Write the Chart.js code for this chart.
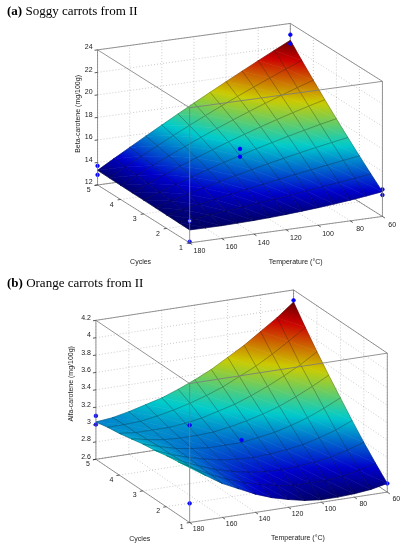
<!DOCTYPE html>
<html>
<head>
<meta charset="utf-8">
<script src="https://cdn.jsdelivr.net/npm/chart.js@4.4.1/dist/chart.umd.min.js"></script>
<style>
  body { margin: 0; background: #fff; }
  .panel { position: relative; width: 409px; height: 275px; }
  .panel canvas { position: absolute; left: 0; top: 0; }
  .caption { position: absolute; left: 7px; font: 13px/13px "Liberation Serif", "Times New Roman", serif; color: #000; white-space: nowrap; }
</style>
</head>
<body>
<div class="panel">
  <canvas id="soggy" width="409" height="275"></canvas>
  <div class="caption" style="top:3.5px"><b>(a)</b> Soggy carrots from II</div>
</div>
<div class="panel">
  <canvas id="orange" width="409" height="275"></canvas>
  <div class="caption" style="top:0.5px"><b>(b)</b> Orange carrots from II</div>
</div>
<script>
// grid of the fitted surfaces: rows follow cycles, columns follow temps
const temps = [60, 70, 80, 90, 100, 110, 120, 130, 140, 150, 160, 170, 180];
const cycles = [1, 1.5, 2, 2.5, 3, 3.5, 4, 4.5, 5];

const tempTicks = [60, 80, 100, 120, 140, 160, 180];
const cycleTicks = [1, 2, 3, 4, 5];
const betaTicks = [12, 14, 16, 18, 20, 22, 24];
const alfaTicks = [2.6, 2.8, 3, 3.2, 3.4, 3.6, 3.8, 4, 4.2];

const betaSurface = [
  [14.20, 14.01, 13.84, 13.69, 13.56, 13.45, 13.35, 13.27, 13.21, 13.17, 13.14, 13.14, 13.15],
  [15.13, 14.94, 14.75, 14.58, 14.40, 14.23, 14.06, 13.90, 13.75, 13.60, 13.45, 13.31, 13.17],
  [16.09, 15.88, 15.66, 15.44, 15.22, 14.98, 14.74, 14.50, 14.25, 13.99, 13.73, 13.46, 13.19],
  [17.08, 16.83, 16.57, 16.30, 16.01, 15.71, 15.39, 15.06, 14.72, 14.36, 13.99, 13.60, 13.21],
  [18.10, 17.80, 17.47, 17.13, 16.77, 16.40, 16.00, 15.59, 15.15, 14.70, 14.22, 13.73, 13.23],
  [19.15, 18.78, 18.38, 17.96, 17.52, 17.06, 16.58, 16.07, 15.55, 15.01, 14.44, 13.85, 13.24],
  [20.24, 19.77, 19.28, 18.77, 18.24, 17.69, 17.12, 16.53, 15.91, 15.28, 14.63, 13.96, 13.26],
  [21.35, 20.78, 20.18, 19.57, 18.94, 18.29, 17.63, 16.95, 16.25, 15.53, 14.80, 14.05, 13.28],
  [22.50, 21.80, 21.08, 20.35, 19.61, 18.86, 18.10, 17.33, 16.54, 15.75, 14.94, 14.13, 13.30]
];

const alfaSurface = [
  [2.70, 2.66, 2.64, 2.63, 2.63, 2.65, 2.69, 2.74, 2.81, 2.90, 2.99, 3.11, 3.24],
  [2.84, 2.79, 2.75, 2.73, 2.73, 2.73, 2.76, 2.80, 2.85, 2.92, 3.00, 3.10, 3.21],
  [2.99, 2.93, 2.88, 2.85, 2.83, 2.82, 2.83, 2.85, 2.89, 2.94, 3.01, 3.09, 3.19],
  [3.15, 3.07, 3.01, 2.96, 2.93, 2.91, 2.90, 2.91, 2.93, 2.97, 3.02, 3.08, 3.16],
  [3.32, 3.23, 3.15, 3.09, 3.04, 3.01, 2.98, 2.98, 2.98, 3.00, 3.03, 3.08, 3.14],
  [3.49, 3.39, 3.30, 3.22, 3.16, 3.11, 3.07, 3.04, 3.03, 3.03, 3.04, 3.07, 3.11],
  [3.67, 3.55, 3.45, 3.36, 3.28, 3.21, 3.16, 3.11, 3.08, 3.06, 3.06, 3.06, 3.08],
  [3.86, 3.73, 3.61, 3.50, 3.41, 3.32, 3.25, 3.19, 3.14, 3.10, 3.07, 3.06, 3.06],
  [4.06, 3.91, 3.78, 3.65, 3.54, 3.43, 3.34, 3.26, 3.19, 3.14, 3.09, 3.05, 3.03]
];

// measured points (blue dots)
const betaPointTemps = [180, 180, 180, 180, 60, 60, 60, 60, 120, 120];
const betaPointCycles = [5, 5, 1, 1, 5, 5, 1, 1, 3, 3];
const betaPointValues = [13.7, 12.9, 13.95, 12.1, 23.0, 22.2, 14.4, 13.9, 16.6, 15.9];

const alfaPointTemps = [180, 180, 180, 180, 60, 60, 120];
const alfaPointCycles = [5, 5, 1, 1, 5, 1, 3];
const alfaPointValues = [3.10, 3.00, 3.72, 2.82, 4.08, 2.70, 3.01];

// view of the 3-D box: corner at (180 degC, 1 cycle, z min), edge vectors in px
const soggyView = {
  corner: [189.3, 246.7], tVec: [197.4, -27.4], cVec: [-94.3, -60], zLen: 140,
  tempLabel: [9.8, 8.5], cycleLabel: [-8.8, 5.3], zLabel: [-5, -2.5],
  tempTitle: [9.7, 32], cycleTitle: [-3, 48], zTitle: [-20, -3.5], ring: [2]
};
const orangeView = {
  corner: [189.3, 251.5], tVec: [202.4, -31.5], cVec: [-96, -65.5], zLen: 144,
  tempLabel: [9, 7], cycleLabel: [-8, 4.6], zLabel: [-5, -2.5],
  tempTitle: [9.5, 31], cycleTitle: [-3, 48], zTitle: [-25, -6], ring: []
};

const FONT = '7px "Liberation Sans", Arial, sans-serif';
const SHADE = 0.8;

function jet(t) {
  const f = (k) => Math.round(255 * SHADE * Math.max(0, Math.min(1, 1.5 - Math.abs(4 * t - k))));
  return "rgb(" + f(3) + "," + f(2) + "," + f(1) + ")";
}

// colour a projected triangle with a linear gradient of the colormap
function shadeTriangle(ctx, P, T) {
  const dx1 = P[1][0] - P[0][0], dy1 = P[1][1] - P[0][1];
  const dx2 = P[2][0] - P[0][0], dy2 = P[2][1] - P[0][1];
  const det = dx1 * dy2 - dx2 * dy1;
  const tLo = Math.min(...T), tHi = Math.max(...T);
  let fill = jet((tLo + tHi) / 2);
  if (Math.abs(det) > 1e-6 && tHi - tLo > 1e-6) {
    const dt1 = T[1] - T[0], dt2 = T[2] - T[0];
    const b = (dt1 * dy2 - dt2 * dy1) / det;
    const c = (dx1 * dt2 - dx2 * dt1) / det;
    const g2 = b * b + c * c;
    if (g2 > 1e-12) {
      const at = (t) => [P[0][0] + b * (t - T[0]) / g2, P[0][1] + c * (t - T[0]) / g2];
      const s = at(tLo), e = at(tHi);
      fill = ctx.createLinearGradient(s[0], s[1], e[0], e[1]);
      for (let k = 0; k <= 4; k++) fill.addColorStop(k / 4, jet(tLo + (tHi - tLo) * k / 4));
    }
  }
  ctx.beginPath();
  ctx.moveTo(P[0][0], P[0][1]);
  ctx.lineTo(P[1][0], P[1][1]);
  ctx.lineTo(P[2][0], P[2][1]);
  ctx.closePath();
  ctx.fillStyle = fill;
  ctx.strokeStyle = fill;
  ctx.lineWidth = 0.6;
  ctx.fill();
  ctx.stroke();
}

function surfaceChart(canvasId, surface, zTicks, zTitle, pTemps, pCycles, pValues, view) {
  const tMin = temps[0], tMax = temps[temps.length - 1];
  const cMin = cycles[0], cMax = cycles[cycles.length - 1];
  const zMin = zTicks[0], zMax = zTicks[zTicks.length - 1];

  const frac = (t, c, z) => [(tMax - t) / (tMax - tMin), (c - cMin) / (cMax - cMin), (z - zMin) / (zMax - zMin)];
  const project = (t, c, z) => {
    const f = frac(t, c, z);
    return {
      x: view.tVec[0] * f[0] + view.cVec[0] * f[1],
      y: view.tVec[1] * f[0] + view.cVec[1] * f[1] - view.zLen * f[2]
    };
  };
  // direction pointing away from the viewer, for painter's ordering
  const away = [-view.cVec[0] * view.zLen, view.tVec[0] * view.zLen,
    view.tVec[0] * view.cVec[1] - view.cVec[0] * view.tVec[1]];
  const depth = (t, c, z) => {
    const f = frac(t, c, z);
    return f[0] * away[0] + f[1] * away[1] + f[2] * away[2];
  };

  const all = surface.flat();
  const lo = Math.min(...all), hi = Math.max(...all);

  const cells = [];
  for (let j = 0; j < cycles.length - 1; j++) {
    for (let i = 0; i < temps.length - 1; i++) {
      const corners = [[i, j], [i + 1, j], [i + 1, j + 1], [i, j + 1]]
        .map(([a, b]) => [temps[a], cycles[b], surface[b][a]]);
      const mean = corners.reduce((s, p) => s + p[2], 0) / 4;
      cells.push({
        corners: corners,
        depth: depth((temps[i] + temps[i + 1]) / 2, (cycles[j] + cycles[j + 1]) / 2, mean)
      });
    }
  }
  cells.sort((p, q) => q.depth - p.depth);

  const px = (chart, t, c, z) => {
    const p = project(t, c, z);
    return [chart.scales.x.getPixelForValue(p.x), chart.scales.y.getPixelForValue(p.y)];
  };
  const seg = (chart, a, b) => {
    const p = px(chart, ...a), q = px(chart, ...b);
    chart.ctx.beginPath();
    chart.ctx.moveTo(p[0], p[1]);
    chart.ctx.lineTo(q[0], q[1]);
    chart.ctx.stroke();
  };
  const unit = (v) => { const n = Math.hypot(v[0], v[1]); return [v[0] / n, v[1] / n]; };

  const surfacePlugin = {
    id: "surface",
    beforeDatasetsDraw(chart) {
      const ctx = chart.ctx;
      ctx.save();
      // dotted grid on the back planes
      ctx.strokeStyle = "rgba(0,0,0,0.3)";
      ctx.lineWidth = 0.7;
      ctx.setLineDash([1, 2]);
      tempTicks.forEach((t) => {
        seg(chart, [t, cMin, zMin], [t, cMax, zMin]);
        seg(chart, [t, cMax, zMin], [t, cMax, zMax]);
      });
      cycleTicks.forEach((c) => {
        seg(chart, [tMax, c, zMin], [tMin, c, zMin]);
        seg(chart, [tMin, c, zMin], [tMin, c, zMax]);
      });
      zTicks.forEach((z) => {
        seg(chart, [tMax, cMax, z], [tMin, cMax, z]);
        seg(chart, [tMin, cMax, z], [tMin, cMin, z]);
      });
      ctx.setLineDash([]);
      // hidden box edges
      ctx.strokeStyle = "#7a7a7a";
      ctx.lineWidth = 0.8;
      seg(chart, [tMin, cMax, zMin], [tMin, cMax, zMax]);
      seg(chart, [tMin, cMax, zMin], [tMax, cMax, zMin]);
      seg(chart, [tMin, cMax, zMin], [tMin, cMin, zMin]);
      // surface, back to front
      cells.forEach((cell) => {
        const P = cell.corners.map((p) => px(chart, ...p));
        const T = cell.corners.map((p) => (p[2] - lo) / (hi - lo));
        shadeTriangle(ctx, [P[0], P[1], P[2]], [T[0], T[1], T[2]]);
        shadeTriangle(ctx, [P[0], P[2], P[3]], [T[0], T[2], T[3]]);
        ctx.beginPath();
        P.forEach((q, k) => (k === 0 ? ctx.moveTo(q[0], q[1]) : ctx.lineTo(q[0], q[1])));
        ctx.closePath();
        ctx.lineWidth = 0.5;
        ctx.strokeStyle = "rgba(0,0,0,0.45)";
        ctx.stroke();
      });
      ctx.restore();
    },
    afterDatasetsDraw(chart) {
      const ctx = chart.ctx;
      ctx.save();
      ctx.strokeStyle = "#7a7a7a";
      ctx.lineWidth = 0.8;
      seg(chart, [tMax, cMin, zMin], [tMin, cMin, zMin]);
      seg(chart, [tMax, cMin, zMin], [tMax, cMax, zMin]);
      seg(chart, [tMax, cMin, zMin], [tMax, cMin, zMax]);
      seg(chart, [tMax, cMax, zMin], [tMax, cMax, zMax]);
      seg(chart, [tMin, cMin, zMin], [tMin, cMin, zMax]);
      seg(chart, [tMax, cMin, zMax], [tMin, cMin, zMax]);
      seg(chart, [tMax, cMin, zMax], [tMax, cMax, zMax]);
      seg(chart, [tMax, cMax, zMax], [tMin, cMax, zMax]);
      seg(chart, [tMin, cMin, zMax], [tMin, cMax, zMax]);

      // ticks and tick labels
      const outT = unit([-view.cVec[0], -view.cVec[1]]);
      const outC = unit([-view.tVec[0], -view.tVec[1]]);
      ctx.strokeStyle = "#333";
      ctx.fillStyle = "#1a1a1a";
      ctx.font = FONT;
      ctx.textBaseline = "middle";
      ctx.textAlign = "center";
      tempTicks.forEach((t) => {
        const p = px(chart, t, cMin, zMin);
        ctx.beginPath(); ctx.moveTo(p[0], p[1]); ctx.lineTo(p[0] + outT[0] * 3, p[1] + outT[1] * 3); ctx.stroke();
        ctx.fillText(String(t), p[0] + view.tempLabel[0], p[1] + view.tempLabel[1]);
      });
      cycleTicks.forEach((c) => {
        const p = px(chart, tMax, c, zMin);
        ctx.beginPath(); ctx.moveTo(p[0], p[1]); ctx.lineTo(p[0] + outC[0] * 3, p[1] + outC[1] * 3); ctx.stroke();
        ctx.fillText(String(c), p[0] + view.cycleLabel[0], p[1] + view.cycleLabel[1]);
      });
      ctx.textAlign = "right";
      zTicks.forEach((z) => {
        const p = px(chart, tMax, cMax, z);
        ctx.beginPath(); ctx.moveTo(p[0], p[1]); ctx.lineTo(p[0] + outC[0] * 3, p[1] + outC[1] * 3); ctx.stroke();
        ctx.fillText(String(z), p[0] + view.zLabel[0], p[1] + view.zLabel[1]);
      });

      // axis titles
      ctx.textAlign = "center";
      const tMid = px(chart, (tMin + tMax) / 2, cMin, zMin);
      ctx.fillText("Temperature (\u00B0C)", tMid[0] + view.tempTitle[0], tMid[1] + view.tempTitle[1]);
      const cMid = px(chart, tMax, (cMin + cMax) / 2, zMin);
      ctx.fillText("Cycles", cMid[0] + view.cycleTitle[0], cMid[1] + view.cycleTitle[1]);
      const zMid = px(chart, tMax, cMax, (zMin + zMax) / 2);
      ctx.translate(zMid[0] + view.zTitle[0], zMid[1] + view.zTitle[1]);
      ctx.rotate(-Math.PI / 2);
      ctx.fillText(zTitle, 0, 0);
      ctx.restore();
    }
  };

  const canvas = document.getElementById(canvasId);
  const W = canvas.width, H = canvas.height;

  return new Chart(canvas.getContext("2d"), {
    type: "scatter",
    data: {
      datasets: [{
        data: pTemps.map((t, k) => project(t, pCycles[k], pValues[k])),
        pointRadius: 1.8,
        pointBackgroundColor: pTemps.map((t, k) => (view.ring.includes(k) ? "#d8d8ff" : "#0000ff")),
        pointBorderColor: "#0000ff",
        pointBorderWidth: 0.8
      }]
    },
    options: {
      responsive: false,
      animation: false,
      events: [],
      layout: { padding: 0 },
      plugins: { legend: { display: false }, tooltip: { enabled: false } },
      scales: {
        x: { type: "linear", display: false, min: -view.corner[0], max: W - view.corner[0] },
        y: { type: "linear", display: false, reverse: true, min: -view.corner[1], max: H - view.corner[1] }
      }
    },
    plugins: [surfacePlugin]
  });
}

surfaceChart("soggy", betaSurface, betaTicks, "Beta-carotene (mg/100g)",
  betaPointTemps, betaPointCycles, betaPointValues, soggyView);
surfaceChart("orange", alfaSurface, alfaTicks, "Alfa-carotene (mg/100g)",
  alfaPointTemps, alfaPointCycles, alfaPointValues, orangeView);
</script>
</body>
</html>
